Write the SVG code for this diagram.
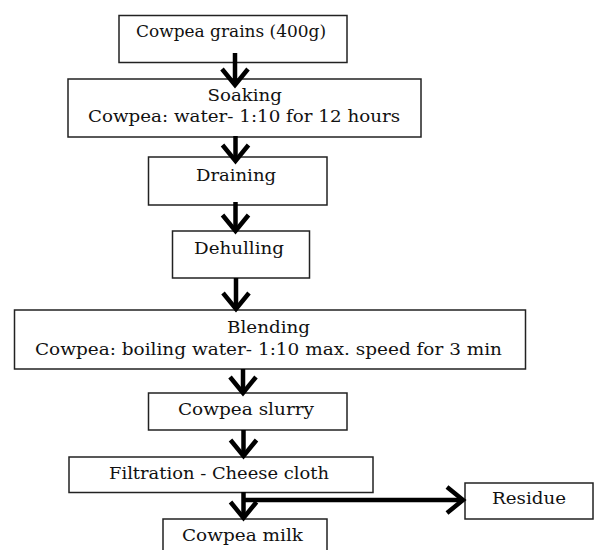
<svg xmlns="http://www.w3.org/2000/svg" width="595" height="550" viewBox="0 0 595 550">
<style>
.box{fill:#fff;stroke:#222;stroke-width:1.5}
.t{font-family:"DejaVu Serif","Liberation Serif",serif;font-size:17px;fill:#111}
.arr{stroke:#000;stroke-width:4.5;fill:none;marker-end:url(#chev)}
</style>
<defs>
<marker id="chev" markerUnits="userSpaceOnUse" viewBox="-2 -2 24 32" refX="17" refY="14" markerWidth="24" markerHeight="32" orient="auto">
<path d="M1,1 L17,14 L1,27" fill="none" stroke="#000" stroke-width="4.5" stroke-linejoin="miter"/>
</marker>
</defs>
<rect width="595" height="550" fill="#fff"/>
<g id="n1"><rect class="box" x="119" y="15.5" width="228" height="47"/><text class="t" x="136" y="37" textLength="190" lengthAdjust="spacingAndGlyphs">Cowpea grains (400g)</text></g>
<g id="n2"><rect class="box" x="68" y="79" width="353" height="58"/><text class="t" x="207.5" y="101" textLength="74.5" lengthAdjust="spacingAndGlyphs">Soaking</text><text class="t" x="88" y="122" textLength="312" lengthAdjust="spacingAndGlyphs">Cowpea: water- 1:10 for 12 hours</text></g>
<g id="n3"><rect class="box" x="148.5" y="157" width="178.5" height="48"/><text class="t" x="196" y="181" textLength="80" lengthAdjust="spacingAndGlyphs">Draining</text></g>
<g id="n4"><rect class="box" x="172.5" y="231" width="137" height="47"/><text class="t" x="194" y="254" textLength="90" lengthAdjust="spacingAndGlyphs">Dehulling</text></g>
<g id="n5"><rect class="box" x="14.5" y="310" width="511" height="59"/><text class="t" x="227" y="333" textLength="83" lengthAdjust="spacingAndGlyphs">Blending</text><text class="t" x="35" y="355" textLength="467" lengthAdjust="spacingAndGlyphs">Cowpea: boiling water- 1:10 max. speed for 3 min</text></g>
<g id="n6"><rect class="box" x="148.5" y="393" width="198.5" height="37"/><text class="t" x="178" y="415" textLength="136" lengthAdjust="spacingAndGlyphs">Cowpea slurry</text></g>
<g id="n7"><rect class="box" x="69" y="457" width="304" height="35.5"/><text class="t" x="109" y="479" textLength="220" lengthAdjust="spacingAndGlyphs">Filtration - Cheese cloth</text></g>
<g id="n8"><rect class="box" x="465" y="483" width="128" height="36"/><text class="t" x="492" y="504" textLength="74" lengthAdjust="spacingAndGlyphs">Residue</text></g>
<g id="n9"><rect class="box" x="163" y="519" width="164" height="40"/><text class="t" x="182" y="541" textLength="121" lengthAdjust="spacingAndGlyphs">Cowpea milk</text></g>
<g id="connectors">
<line class="arr" x1="235" y1="53" x2="235" y2="85"/>
<line class="arr" x1="235.5" y1="136" x2="235.5" y2="161"/>
<line class="arr" x1="235.5" y1="202" x2="235.5" y2="231"/>
<line class="arr" x1="236" y1="278" x2="236" y2="309"/>
<line class="arr" x1="243" y1="369" x2="243" y2="393"/>
<line class="arr" x1="243.5" y1="430" x2="243.5" y2="456"/>
<line class="arr" x1="243.5" y1="492" x2="243.5" y2="518"/>
<line class="arr" x1="243.5" y1="500" x2="463" y2="500"/>
</g>
</svg>
